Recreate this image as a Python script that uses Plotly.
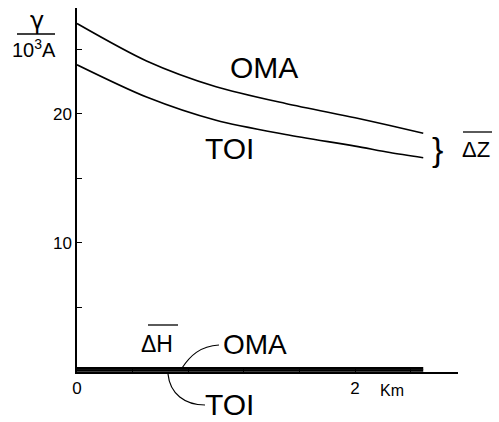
import plotly.graph_objects as go

# gamma (10^3 A) vs distance (km)
km = [0, 0.5, 1.0, 1.5, 2.0, 2.25, 2.49]
oma_dz = [27.0, 24.1, 22.1, 20.8, 19.7, 19.1, 18.5]
toi_dz = [23.8, 21.3, 19.5, 18.4, 17.5, 17.0, 16.6]

km_h = [0, 2.49]
oma_dh = [0.28, 0.28]
toi_dh = [0.12, 0.12]

x_ticks = [0, 0.4, 0.8, 1.2, 1.6, 2.0, 2.4]
x_labels = ["0", "", "", "", "", "2", ""]
y_ticks = [5, 10, 15, 20, 25]
y_labels = ["", "10", "", "20", ""]

W, H = 499, 422
L, R, T, B = 77, 41, 8, 50
FONT = "Liberation Sans"


def px(x, y):
    # pixel position -> paper coords
    return (x - L) / (W - L - R), (H - B - y) / (H - T - B)


fig = go.Figure()
for yy in [oma_dz, toi_dz]:
    fig.add_trace(go.Scatter(x=km, y=yy, mode="lines",
                             line=dict(color="black", width=1.6, shape="spline", smoothing=0.8)))
for yy in [oma_dh, toi_dh]:
    fig.add_trace(go.Scatter(x=km_h, y=yy, mode="lines",
                             line=dict(color="black", width=2.6)))

fig.update_layout(
    width=W, height=H, margin=dict(l=L, r=R, t=T, b=B),
    plot_bgcolor="white", paper_bgcolor="white", showlegend=False,
    font=dict(family=FONT, color="black"),
)
fig.update_xaxes(range=[0, 2.74], showgrid=False, zeroline=False,
                 showline=True, linecolor="black", linewidth=1.5,
                 ticks="inside", ticklen=4, tickwidth=1, tickcolor="black",
                 tickvals=x_ticks, ticktext=x_labels, tickfont=dict(size=17))
fig.update_yaxes(range=[0, 28.2], showgrid=False, zeroline=False,
                 showline=True, linecolor="black", linewidth=1.5,
                 ticks="inside", ticklen=5, tickwidth=1, tickcolor="black",
                 tickvals=y_ticks, ticktext=y_labels, tickfont=dict(size=17))


def label(text, x, y, size, family=FONT):
    xp, yp = px(x, y)
    fig.add_annotation(x=xp, y=yp, xref="paper", yref="paper", text=text,
                       showarrow=False, font=dict(size=size, family=family),
                       xanchor="center", yanchor="middle")


def seg(x0, y0, x1, y1, w=1.3):
    a, b = px(x0, y0)
    c, d = px(x1, y1)
    fig.add_shape(type="line", x0=a, y0=b, x1=c, y1=d, xref="paper", yref="paper",
                  line=dict(color="black", width=w))


def curve(pts, w=1.2):
    p = [px(*q) for q in pts]
    path = "M %f,%f C %f,%f %f,%f %f,%f" % (p[0] + p[1] + p[2] + p[3])
    fig.add_shape(type="path", path=path, xref="paper", yref="paper",
                  line=dict(color="black", width=w))


# y axis unit
label("γ", 37, 21, 24, "DejaVu Sans")
seg(17, 34, 55, 34)
label("10<sup>3</sup>A", 34, 48, 20)

label("OMA", 264, 68, 30)
label("TOI", 229, 148, 30)
label("}", 437, 149, 34)
label("ΔZ", 476, 150, 22)
seg(463, 132, 492, 132)

label("ΔH", 157, 344, 23)
seg(148, 325, 178, 325)
label("OMA", 255, 344, 28)
label("TOI", 229, 405, 30)
label("Km", 392, 390, 16)

curve([(182, 368), (190, 356), (200, 346), (219, 345)])
curve([(168, 374), (170, 394), (185, 405), (205, 405)])

# page body has a default margin; drop it so the figure fills the window
fig.write_html("out.html", config={"displayModeBar": False},
               post_script="document.body.style.margin='0';")
